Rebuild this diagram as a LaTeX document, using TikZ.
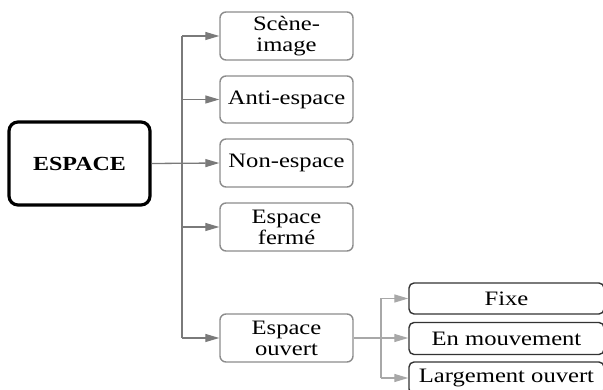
\documentclass[tikz,border=0pt]{standalone}
\usepackage{fontspec}
\setmainfont[FakeStretch=1.2]{Liberation Serif}
\usetikzlibrary{arrows.meta}
\definecolor{mainline}{HTML}{7A7A7A}
\definecolor{subline}{HTML}{A8A8A8}
\definecolor{mainborder}{HTML}{8C8C8C}
\definecolor{subborder}{HTML}{333333}
\tikzset{
  rootbox/.style={draw=black, line width=3.2pt, rounded corners=9pt, minimum width=141pt, minimum height=83pt, inner sep=0pt, font=\fontsize{20}{21}\selectfont\bfseries},
  catbox/.style={draw=mainborder, line width=1.4pt, rounded corners=6pt, minimum width=133pt, minimum height=48pt, inner sep=0pt, align=center, font=\fontsize{20.5}{21}\selectfont},
  subbox/.style={draw=subborder, line width=1.4pt, rounded corners=5pt, minimum width=195pt, minimum height=31pt, inner sep=0pt, font=\fontsize{20.5}{21}\selectfont},
  mainarr/.style={draw=mainline, line width=1.3pt, -{Triangle[length=14pt,width=8pt]}},
  mainln/.style={draw=mainline, line width=1.3pt},
  subarr/.style={draw=subline, line width=1.3pt, -{Triangle[length=14pt,width=8pt]}},
  subln/.style={draw=subline, line width=1.3pt}
}
\begin{document}
\begin{tikzpicture}[x=1pt,y=-1pt]
\useasboundingbox (0,0) rectangle (603,390);
\clip (0,0) rectangle (603,390);
\node[rootbox] (espace) at (79.5,163.5) {ESPACE};
\node[catbox] (scene) at (286.5,36) {Scène-\\image};
\node[catbox, minimum height=47pt] (anti) at (286.5,99.5) {Anti-espace};
\node[catbox] (non) at (286.5,163) {Non-espace};
\node[catbox] (ferme) at (286.5,227) {Espace\\fermé};
\node[catbox] (ouvert) at (286.5,338) {Espace\\ouvert};
\node[subbox] (fixe) at (506.5,298.5) {Fixe};
\node[subbox, minimum height=32pt] (mouv) at (506.5,338.5) {En mouvement};
\node[subbox, minimum height=32pt] (large) at (506.5,378) {Largement ouvert};
\coordinate (j) at (182,0);
\coordinate (k) at (381,0);
% main tree
\draw[mainln] (scene.west -| j) -- (ouvert.west -| j);
\draw[mainarr] (espace.east) -- (non.west);
\draw[mainarr] (scene.west -| j) -- (scene.west);
\draw[mainarr] (anti.west -| j) -- (anti.west);
\draw[mainarr] (ferme.west -| j) -- (ferme.west);
\draw[mainarr] (ouvert.west -| j) -- (ouvert.west);
% sub tree
\draw[subln] (fixe.west -| k) -- (large.west -| k);
\draw[subarr] (ouvert.east) -- (ouvert.east -| mouv.west);
\draw[subarr] (fixe.west -| k) -- (fixe.west);
\draw[subarr] (large.west -| k) -- (large.west);
\end{tikzpicture}
\end{document}
